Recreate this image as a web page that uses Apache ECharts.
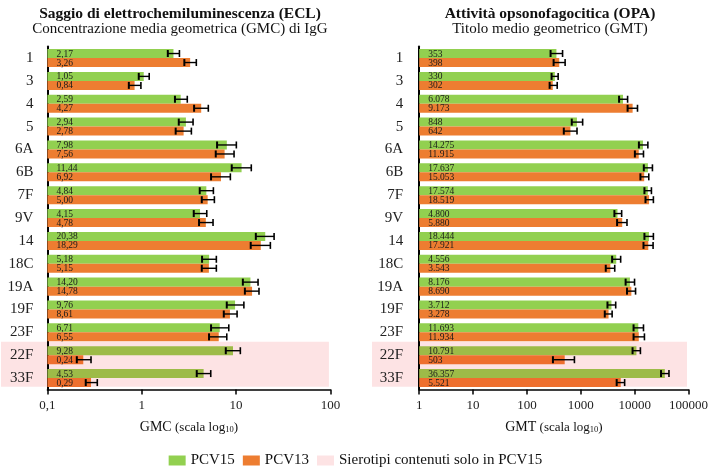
<!DOCTYPE html>
<html>
<head>
<meta charset="utf-8">
<script src="https://cdn.jsdelivr.net/npm/echarts@6/dist/echarts.min.js"></script>
<style>
html,body{margin:0;padding:0;background:#fff;}
#chart{width:711px;height:469px;}
</style>
</head>
<body>
<div id="chart"></div>
<script>
// ---- Data ----
var categories = ['1','3','4','5','6A','6B','7F','9V','14','18C','19A','19F','23F','22F','33F'];
var pcv15OnlyCategories = ['22F','33F'];

var eclPCV15     = [2.17,1.05,2.59,2.94,7.98,11.44,4.84,4.15,20.38,5.18,14.20,9.76,6.71,9.28,4.53];
var eclPCV15Low  = [1.89,0.93,2.25,2.47,6.29,9.00,4.12,3.56,16.2,4.36,11.8,7.97,5.43,7.78,3.83];
var eclPCV15High = [2.51,1.20,3.04,3.50,10.07,14.5,5.75,4.89,25.3,6.18,17.1,12.1,8.37,11.1,5.39];
var eclPCV13     = [3.26,0.84,4.27,2.78,7.56,6.92,5.00,4.78,18.29,5.15,14.78,8.61,6.55,0.24,0.29];
var eclPCV13Low  = [2.83,0.73,3.59,2.29,6.09,5.43,4.33,4.05,14.3,4.33,12.4,7.41,5.17,0.205,0.255];
var eclPCV13High = [3.79,0.98,5.08,3.36,9.52,8.70,5.89,5.70,23.1,6.18,17.5,10.25,7.97,0.29,0.338];

var opaPCV15     = [353,330,6078,848,14275,17637,17574,4800,18444,4556,8176,3712,11693,10791,36357];
var opaPCV15Low  = [275,287,5140,680,12000,14800,15200,4210,15200,3820,6800,3130,9550,9150,30900];
var opaPCV15High = [459,380,7400,1083,17600,21400,20500,5740,22300,5500,9960,4450,14600,12800,43400];
var opaPCV13     = [398,302,9173,642,11915,15053,18519,5880,17921,3543,8690,3278,11934,503,5521];
var opaPCV13Low  = [313,264,7400,484,10100,12800,15900,4720,14600,2910,7210,2790,9550,304,4640];
var opaPCV13High = [512,365,11300,851,14600,18300,22300,7210,22000,4270,10400,3820,15200,762,6520];

var eclTicks = ['0,1','1','10','100'];
var opaTicks = ['1','10','100','1000','10000','100000'];

// ---- Styles ----
var SERIF = "'Liberation Serif','DejaVu Serif',serif";
var GREEN = '#92D050', GREEN_PINK = '#9DBB48';
var ORANGE = '#ED7D31', ORANGE_PINK = '#EE6F2E';
var PINK = '#FDE3E4';

function fmtEcl(v){ return v.toFixed(2).replace('.', ','); }
function fmtOpa(v){ return String(Math.round(v)).replace(/\B(?=(\d{3})+(?!\d))/g, '.'); }

function buildData(vals, lo, hi){
  return vals.map(function(v,i){ return [v, i, lo[i], hi[i]]; });
}

function makeRender(isGreen, fmt, axisMin){
  return function(params, api){
    var idx = api.value(1);
    var v = api.value(0), lo = api.value(2), hi = api.value(3);
    var c = api.coord([v, idx]);
    var base = api.coord([axisMin, idx])[0];
    var band = api.size([0,1])[1];
    var bh = band * 0.394;
    var y0 = isGreen ? c[1] - bh : c[1];
    var ym = y0 + bh/2;
    var xl = api.coord([lo, idx])[0], xh = api.coord([hi, idx])[0];
    var pinkRow = pcv15OnlyCategories.indexOf(categories[idx]) >= 0;
    var col = isGreen ? (pinkRow ? GREEN_PINK : GREEN) : (pinkRow ? ORANGE_PINK : ORANGE);
    var capH = 7;
    return {
      type: 'group',
      children: [
        {type:'rect', shape:{x: base, y: y0, width: c[0]-base, height: bh}, style:{fill: col}},
        {type:'line', shape:{x1: xl, y1: ym, x2: xh, y2: ym}, style:{stroke:'#000', lineWidth:1.4}},
        {type:'line', shape:{x1: xl, y1: ym-capH/2, x2: xl, y2: ym+capH/2}, style:{stroke:'#000', lineWidth:2}},
        {type:'line', shape:{x1: xh, y1: ym-capH/2, x2: xh, y2: ym+capH/2}, style:{stroke:'#000', lineWidth:1.6}},
        {type:'text', style:{text: fmt(v), x: base + 9, y: ym + 0.5, verticalAlign:'middle', align:'left',
          fontSize: 9.5, fontFamily: SERIF, fill:'#1a1a1a'}}
      ]
    };
  };
}

var axisNameRich = {
  a:{fontSize:14, fontFamily:SERIF, color:'#111'},
  b:{fontSize:13, fontFamily:SERIF, color:'#111'},
  c:{fontSize:8.5, fontFamily:SERIF, color:'#111', padding:[5,0,0,0]}
};

function valueAxis(gridIndex, min, max, name, ticks){
  return {
    type:'log', gridIndex: gridIndex, logBase:10, min:min, max:max,
    axisLine:{show:true, lineStyle:{color:'#000', width:1.5}},
    axisTick:{show:true, length:5, lineStyle:{color:'#000', width:1.5}},
    axisLabel:{fontFamily:SERIF, fontSize:13, color:'#222', margin:10,
      formatter:function(v){ var k = Math.round(Math.log10(v) - Math.log10(min)); return ticks[k]; }},
    splitLine:{show:false}, minorTick:{show:false},
    name: name, nameLocation:'middle', nameGap:31,
    nameTextStyle:{rich: axisNameRich}
  };
}
function catAxis(gridIndex, margin){
  return {
    type:'category', gridIndex:gridIndex, data:categories, inverse:true,
    axisLine:{show:true, lineStyle:{color:'#000', width:2}},
    axisTick:{show:false},
    axisLabel:{fontFamily:SERIF, fontSize:15, color:'#222', margin:margin}
  };
}

var chart = echarts.init(document.getElementById('chart'), null, {renderer:'canvas'});
var option = {
  animation:false,
  backgroundColor:'#fff',
  title:[
    {text:'Saggio di elettrochemiluminescenza (ECL)', left:175, top:1, textAlign:'center',
     textStyle:{fontFamily:SERIF, fontWeight:'bold', fontSize:15.5, color:'#111'}},
    {text:'Concentrazione media geometrica (GMC) di IgG', left:175, top:17, textAlign:'center',
     textStyle:{fontFamily:SERIF, fontWeight:'normal', fontSize:15, color:'#111'}},
    {text:'Attività opsonofagocitica (OPA)', left:545, top:1, textAlign:'center',
     textStyle:{fontFamily:SERIF, fontWeight:'bold', fontSize:15.5, color:'#111'}},
    {text:'Titolo medio geometrico (GMT)', left:545, top:17, textAlign:'center',
     textStyle:{fontFamily:SERIF, fontWeight:'normal', fontSize:15, color:'#111'}}
  ],
  legend:{
    left:'center', top:448, icon:'rect', itemWidth:17, itemHeight:10, itemGap:8,
    textStyle:{fontFamily:SERIF, fontSize:15, color:'#111'},
    data:['PCV15','PCV13','Sierotipi contenuti solo in PCV15']
  },
  grid:[
    {left:47.4, width:283, top:46.6, height:342.9},
    {left:419.2, width:271.5, top:46.6, height:342.9}
  ],
  xAxis:[
    valueAxis(0, 0.1, 100, '{a|GMC} {b|(scala log}{c|10}{b|)}', eclTicks),
    valueAxis(1, 1, 100000, '{a|GMT} {b|(scala log}{c|10}{b|)}', opaTicks)
  ],
  yAxis:[catAxis(0, 14), catAxis(1, 16)],
  series:[
    {type:'custom', name:'PCV15', xAxisIndex:0, yAxisIndex:0, itemStyle:{color:GREEN},
     encode:{x:0, y:1}, data:buildData(eclPCV15, eclPCV15Low, eclPCV15High), renderItem:makeRender(true, fmtEcl, 0.1)},
    {type:'custom', name:'PCV13', xAxisIndex:0, yAxisIndex:0, itemStyle:{color:ORANGE},
     encode:{x:0, y:1}, data:buildData(eclPCV13, eclPCV13Low, eclPCV13High), renderItem:makeRender(false, fmtEcl, 0.1)},
    {type:'custom', name:'PCV15', xAxisIndex:1, yAxisIndex:1, itemStyle:{color:GREEN},
     encode:{x:0, y:1}, data:buildData(opaPCV15, opaPCV15Low, opaPCV15High), renderItem:makeRender(true, fmtOpa, 1)},
    {type:'custom', name:'PCV13', xAxisIndex:1, yAxisIndex:1, itemStyle:{color:ORANGE},
     encode:{x:0, y:1}, data:buildData(opaPCV13, opaPCV13Low, opaPCV13High), renderItem:makeRender(false, fmtOpa, 1)},
    {type:'custom', name:'Sierotipi contenuti solo in PCV15', xAxisIndex:0, yAxisIndex:0, itemStyle:{color:PINK},
     data:[], renderItem:function(){ return null; }}
  ]
};
chart.setOption(option);

// pink background for PCV15-only serotypes, placed via the category axes
function pinkRects(){
  var els = [];
  var first = pcv15OnlyCategories[0], last = pcv15OnlyCategories[pcv15OnlyCategories.length-1];
  var specs = [{yi:0, xi:0, x0:1, xEndVal:100}, {yi:1, xi:1, x0:372, xEndVal:100000}];
  specs.forEach(function(s){
    var c1 = chart.convertToPixel({yAxisIndex:s.yi}, first);
    var c2 = chart.convertToPixel({yAxisIndex:s.yi}, last);
    var band = (c2 - c1) / (pcv15OnlyCategories.length - 1);
    var top = c1 - band*0.59, bottom = c2 + band*0.38;
    var xEnd = chart.convertToPixel({xAxisIndex:s.xi}, s.xEndVal) - 1.5;
    els.push({type:'rect', z:-1, silent:true, shape:{x:s.x0, y:top, width:xEnd - s.x0, height:bottom-top}, style:{fill:PINK}});
  });
  return els;
}
chart.setOption({graphic: pinkRects()});
</script>
</body>
</html>
